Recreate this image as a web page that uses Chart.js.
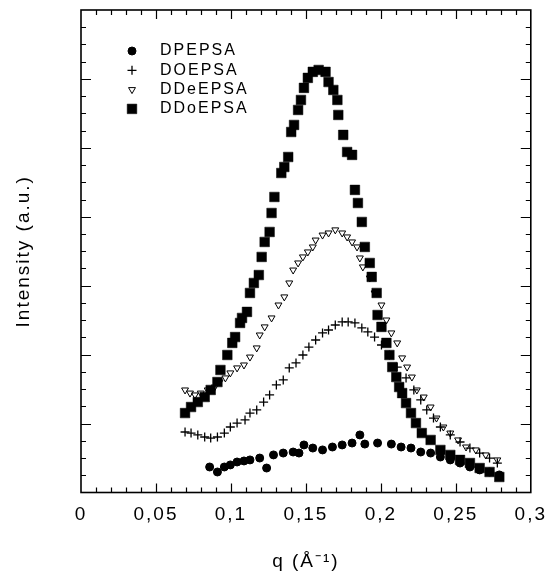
<!DOCTYPE html>
<html>
<head>
<meta charset="utf-8">
<script src="https://cdn.jsdelivr.net/npm/chart.js@4.4.1/dist/chart.umd.min.js"></script>
<style>
  html, body { margin: 0; padding: 0; background: #fff; }
  #wrap { width: 555px; height: 576px; }
</style>
</head>
<body>
<div id="wrap"><canvas id="chart" width="555" height="576"></canvas></div>
<script>
// --- data: q in 1/Angstrom, intensity in arbitrary units ---
const seriesNames = ['DPEPSA', 'DOEPSA', 'DDeEPSA', 'DDoEPSA'];

const qDP = [0.0858, 0.0910, 0.0956, 0.0996, 0.1041, 0.1087, 0.1127, 0.1192, 0.1238, 0.1284, 0.1349, 0.1415,
    0.1454, 0.1487, 0.1546, 0.1611, 0.1677, 0.1742, 0.1808, 0.1860, 0.1893, 0.1978, 0.2070, 0.2135, 0.2201,
    0.2266, 0.2332, 0.2397, 0.2463, 0.2528, 0.2594, 0.2659, 0.2725, 0.2790];
const iDP = [1.48, 1.19, 1.48, 1.60, 1.77, 1.83, 1.89, 2.00, 1.42, 2.18, 2.29, 2.35,
    2.29, 2.76, 2.58, 2.47, 2.64, 2.76, 2.87, 3.34, 2.81, 2.87, 2.81, 2.64, 2.58,
    2.35, 2.29, 2.06, 1.89, 1.71, 1.48, 1.31, 1.19, 1.02];

const qDO = [0.0694, 0.0734, 0.0779, 0.0825, 0.0865, 0.0910, 0.0956, 0.0996, 0.1041, 0.1094, 0.1127, 0.1172,
    0.1218, 0.1258, 0.1303, 0.1349, 0.1389, 0.1434, 0.1480, 0.1520, 0.1565, 0.1611, 0.1651, 0.1696, 0.1742,
    0.1782, 0.1827, 0.1873, 0.1913, 0.1958, 0.2004, 0.2057, 0.2109, 0.2168, 0.2220, 0.2266, 0.2306, 0.2351,
    0.2397, 0.2463, 0.2528, 0.2594, 0.2659, 0.2725, 0.2777];
const iDO = [3.51, 3.45, 3.34, 3.22, 3.16, 3.22, 3.45, 3.80, 4.03, 4.21, 4.61, 4.79,
    5.25, 5.66, 6.24, 6.53, 7.23, 7.52, 7.98, 8.44, 8.85, 9.26, 9.43, 9.72, 9.90,
    9.90, 9.84, 9.55, 9.32, 9.02, 8.56, 7.98, 7.28, 6.65, 5.95, 5.37, 4.79, 4.32,
    3.80, 3.34, 2.93, 2.58, 2.29, 2.00, 1.71];

const qDDe = [0.0694, 0.0727, 0.0760, 0.0799, 0.0845, 0.0891, 0.0924, 0.0963, 0.0996, 0.1041, 0.1087, 0.1127,
    0.1172, 0.1192, 0.1225, 0.1271, 0.1317, 0.1356, 0.1389, 0.1415, 0.1448, 0.1480, 0.1513, 0.1546, 0.1565,
    0.1611, 0.1651, 0.1696, 0.1742, 0.1775, 0.1808, 0.1841, 0.1860, 0.1880, 0.1926, 0.1958, 0.2004, 0.2037,
    0.2070, 0.2109, 0.2142, 0.2175, 0.2207, 0.2240, 0.2286, 0.2332, 0.2371, 0.2417, 0.2463, 0.2515, 0.2568,
    0.2633, 0.2699, 0.2777];
const iDDe = [5.95, 5.77, 5.66, 5.77, 5.95, 6.12, 6.41, 6.65, 6.94, 7.23, 7.40, 7.86,
    8.39, 9.14, 9.61, 10.13, 10.88, 11.35, 12.16, 12.91, 13.32, 13.67, 13.96, 14.25, 14.65,
    14.94, 15.06, 15.24, 15.06, 14.83, 14.54, 14.25, 13.61, 13.09, 12.45, 11.58, 10.88, 10.01,
    9.26, 8.68, 7.81, 7.28, 6.70, 5.95, 5.54, 4.96, 4.32, 3.80, 3.45, 3.05, 2.64,
    2.47, 2.18, 1.89];

const qDDo = [0.0694, 0.0734, 0.0779, 0.0825, 0.0865, 0.0910, 0.0930, 0.0976, 0.1009, 0.1028, 0.1061, 0.1074,
    0.1107, 0.1127, 0.1153, 0.1186, 0.1205, 0.1225, 0.1258, 0.1271, 0.1290, 0.1336, 0.1356, 0.1382, 0.1402,
    0.1421, 0.1448, 0.1467, 0.1487, 0.1513, 0.1546, 0.1585, 0.1631, 0.1651, 0.1683, 0.1710, 0.1716, 0.1749,
    0.1775, 0.1808, 0.1827, 0.1847, 0.1873, 0.1893, 0.1926, 0.1939, 0.1972, 0.1978, 0.2004, 0.2037, 0.2057,
    0.2076, 0.2103, 0.2122, 0.2142, 0.2168, 0.2201, 0.2234, 0.2273, 0.2332, 0.2397, 0.2463, 0.2528, 0.2594,
    0.2659, 0.2725, 0.2790];
const iDDo = [4.61, 4.96, 5.25, 5.54, 5.95, 6.41, 7.11, 7.98, 8.68, 9.02, 9.84, 10.13,
    10.48, 11.58, 12.16, 12.62, 13.67, 14.54, 15.12, 16.22, 17.15, 18.54, 18.89, 19.47, 20.92,
    21.33, 22.20, 22.78, 23.48, 24.06, 24.41, 24.52, 24.41, 23.82, 23.36, 22.78, 21.91, 20.75,
    19.76, 19.59, 17.56, 16.80, 15.70, 14.25, 13.32, 12.51, 11.58, 10.30, 9.61, 8.68, 7.98,
    7.28, 6.70, 6.12, 5.77, 5.19, 4.61, 4.03, 3.45, 3.05, 2.47, 2.18, 1.89, 1.71,
    1.42, 1.19, 0.90];

// axis ranges and tick spacing
const xMin = 0, xMax = 0.3, xStep = 0.05, xMinorStep = 0.01;
const yMin = 0, yMax = 28, yMinorStep = 1, yMajorEvery = 4;

const FONT = '"Liberation Sans", Arial, Helvetica, sans-serif';

const toPoints = (qs, is) => qs.map((q, k) => ({ x: q, y: is[k] }));

// inward ticks on all four sides, plus the frame
const frameTicks = {
    id: 'frameTicks',
    afterDatasetsDraw(chart) {
        const { ctx, chartArea: a, scales: { x, y } } = chart;
        ctx.save();
        ctx.strokeStyle = '#000';
        ctx.lineWidth = 1.2;
        ctx.beginPath();
        const nx = Math.round((xMax - xMin) / xMinorStep);
        for (let i = 1; i < nx; i++) {
            const px = Math.round(x.getPixelForValue(xMin + i * xMinorStep)) + 0.5;
            const len = i % 5 === 0 ? 9 : 5;
            ctx.moveTo(px, a.bottom); ctx.lineTo(px, a.bottom - len);
            ctx.moveTo(px, a.top); ctx.lineTo(px, a.top + len);
        }
        const ny = Math.round((yMax - yMin) / yMinorStep);
        for (let j = 1; j < ny; j++) {
            const py = Math.round(y.getPixelForValue(yMin + j * yMinorStep)) + 0.5;
            const len = j % yMajorEvery === 0 ? 10 : 5;
            ctx.moveTo(a.left, py); ctx.lineTo(a.left + len, py);
            ctx.moveTo(a.right, py); ctx.lineTo(a.right - len, py);
        }
        ctx.stroke();
        ctx.lineWidth = 1.6;
        ctx.strokeRect(a.left, a.top, a.right - a.left, a.bottom - a.top);
        ctx.restore();
    }
};

// legend drawn inside the plot, top left
const innerLegend = {
    id: 'innerLegend',
    afterDraw(chart) {
        const ctx = chart.ctx;
        const markX = 132, textX = 160, top = 51, gap = 19.3;
        ctx.save();
        ctx.font = '16px ' + FONT;
        ctx.textBaseline = 'middle';
        chart.data.datasets.forEach((ds, i) => {
            const yy = top + i * gap;
            ctx.fillStyle = ds.backgroundColor;
            ctx.strokeStyle = ds.borderColor;
            ctx.lineWidth = ds.borderWidth;
            Chart.helpers.drawPoint(ctx, {
                pointStyle: ds.pointStyle,
                radius: ds.pointRadius,
                rotation: ds.pointRotation || 0,
                borderWidth: ds.borderWidth
            }, markX, yy);
            ctx.fillStyle = '#000';
            ctx.fillText(ds.label, textX, yy);
        });
        ctx.restore();
    }
};

const spacing = {
    id: 'spacing',
    beforeDraw(chart) { chart.ctx.letterSpacing = '2px'; }
};

new Chart(document.getElementById('chart'), {
    type: 'scatter',
    data: {
        datasets: [
            {
                label: seriesNames[0], data: toPoints(qDP, iDP),
                pointStyle: 'circle', pointRadius: 4,
                backgroundColor: '#000', borderColor: '#000', borderWidth: 1
            },
            {
                label: seriesNames[1], data: toPoints(qDO, iDO),
                pointStyle: 'cross', pointRadius: 4.5,
                backgroundColor: '#000', borderColor: '#000', borderWidth: 1.3
            },
            {
                label: seriesNames[2], data: toPoints(qDDe, iDDe),
                pointStyle: 'triangle', pointRotation: 180, pointRadius: 4,
                backgroundColor: 'rgba(255,255,255,0)', borderColor: '#000', borderWidth: 1
            },
            {
                label: seriesNames[3], data: toPoints(qDDo, iDDo),
                pointStyle: 'rect', pointRadius: 6.8,
                backgroundColor: '#000', borderColor: '#000', borderWidth: 0.5
            }
        ]
    },
    options: {
        responsive: false,
        animation: false,
        events: [],
        layout: { padding: { top: 10, right: 16, left: 0, bottom: 0 } },
        plugins: {
            legend: { display: false },
            tooltip: { enabled: false }
        },
        scales: {
            x: {
                type: 'linear', min: xMin, max: xMax,
                grid: { display: false, drawTicks: false },
                border: { display: false },
                ticks: {
                    stepSize: xStep, padding: 11, color: '#000',
                    font: { family: FONT, size: 19 },
                    callback: v => String(parseFloat(v.toFixed(2))).replace('.', ',')
                },
                title: {
                    display: true, text: 'q (\u00C5\u207B\u00B9)', color: '#000',
                    font: { family: FONT, size: 19 },
                    padding: { top: 0, bottom: 3 }
                },
                afterFit(scale) { scale.height = 83.5; }
            },
            y: {
                type: 'linear', min: yMin, max: yMax,
                grid: { display: false, drawTicks: false },
                border: { display: false },
                ticks: { display: false, stepSize: yMinorStep },
                title: {
                    display: true, text: 'Intensity (a.u.)', color: '#000',
                    font: { family: FONT, size: 19 },
                    padding: { top: 12.5, bottom: 0 }
                },
                afterFit(scale) { scale.width = 81; }
            }
        }
    },
    plugins: [spacing, frameTicks, innerLegend]
});
</script>
</body>
</html>
